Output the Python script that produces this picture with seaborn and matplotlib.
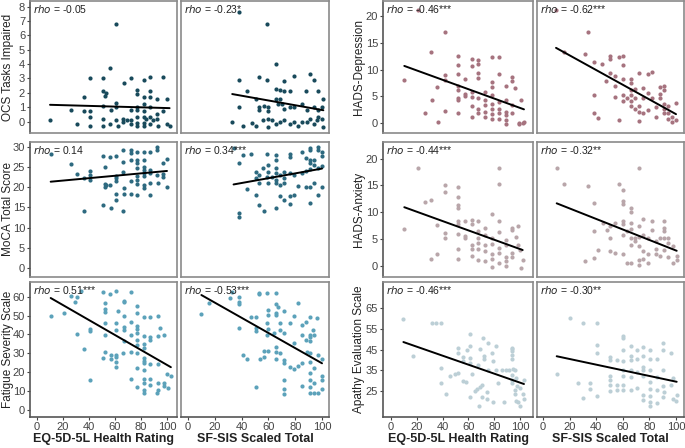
import numpy as np
import matplotlib
matplotlib.use('Agg')
import matplotlib.pyplot as plt
import seaborn as sns

# --- data ---------------------------------------------------------------
ocs_eq_x = [10, 26, 31, 36, 36, 41, 41, 41, 41, 51, 51, 52, 53, 51, 51, 51, 56, 56, 57, 61, 61, 61, 61, 62,
            67, 66, 66, 72, 72, 72, 72, 77, 77, 77, 77, 77, 77, 77, 82, 82, 82, 82, 82, 82, 82, 87, 87, 87,
            87, 87, 87, 92, 92, 93, 97, 97, 100, 100, 102, 69, 84, 89, 92]
ocs_eq_y = [0.1, 0.8, -0.2, 1.7, 0.7, 3.0, 0.7, 0.3, -0.3, 3.0, 2.1, 1.8, 2.0, 1.1, 0.2, -0.3, 3.7, -0.2, 0.8,
            6.8, 1.3, 1.0, 0.1, -0.3, 2.7, 0.2, 0.0, 3.0, 0.8, 0.1, -0.2, 2.2, 1.9, 1.0, 0.8, 0.3, -0.1, -0.3,
            2.9, 1.7, 1.2, 0.7, 0.3, -0.1, -0.3, 3.1, 2.1, 1.7, 1.0, 0.3, -0.2, 1.6, 0.2, -0.3, 3.1, 0.7, -0.2,
            1.6, -0.3, 0.1, 0.2, 0.1, 0.5]

ocs_sis_x = [38, 59, 66, 38, 53, 59, 72, 79, 91, 94, 44, 66, 69, 72, 76, 88, 97, 51, 66, 69, 101, 38, 53, 53,
             57, 60, 60, 67, 70, 72, 76, 79, 85, 89, 94, 97, 100, 33, 41, 48, 51, 56, 60, 60, 63, 66, 69, 72,
             76, 79, 82, 85, 89, 91, 94, 96, 97, 101, 100]
ocs_sis_y = [7.6, 6.8, 4.0, 2.9, 3.1, 2.9, 2.8, 3.2, 3.3, 2.9, 2.1, 2.3, 2.2, 2.1, 2.1, 2.1, 2.1, 1.6, 1.6, 1.6,
             1.6, 1.0, 1.0, 0.8, 1.1, 1.0, 0.7, 1.2, 1.2, 0.9, 1.0, 1.0, 1.2, 0.8, 1.0, 0.8, 1.0, 0.0, -0.3,
             -0.1, -0.3, 0.1, 0.2, -0.4, 0.1, -0.2, 0.0, 0.1, -0.2, 0.0, -0.3, 0.0, -0.05, 0.2, -0.2, 0.1, 0.3,
             -0.4, 0.2]

moca_eq_x = [10.5, 26, 31, 36, 36, 41, 41, 41, 51, 52, 52, 52, 53, 51, 56, 56, 57, 61, 61, 61, 61, 61, 61, 66,
             66, 66, 67, 67, 66, 72, 72, 72, 72, 72, 77, 77, 77, 77, 77, 77, 77, 77, 82, 82, 82, 82, 82, 82,
             82, 82, 87, 87, 87, 87, 87, 92, 92, 92, 93, 97, 97, 97, 100, 100]
moca_eq_y = [28.3, 25.9, 23.4, 22.3, 14.2, 24.2, 23.1, 21.9, 27.9, 25.0, 20.9, 20.0, 20.6, 15.7, 27.5, 20.6,
             14.9, 27.8, 22.9, 22.3, 21.7, 18.4, 16.9, 29.2, 26.3, 23.8, 19.8, 18.3, 14.2, 29.2, 28.5, 26.7,
             21.7, 18.4, 28.9, 26.8, 26.0, 24.8, 22.9, 21.9, 20.8, 18.0, 28.9, 26.8, 25.0, 24.4, 23.7, 22.9,
             20.6, 19.8, 28.9, 24.4, 23.5, 21.2, 18.0, 30.0, 29.2, 23.1, 21.0, 26.0, 23.4, 22.7, 27.1, 20.0]

moca_sis_x = [34, 41, 47, 38, 59, 66, 66, 76, 76, 85, 91, 91, 97, 97, 100, 100, 88, 91, 94, 91, 94, 60, 56,
              51, 66, 60, 72, 66, 69, 76, 79, 85, 88, 91, 97, 100, 53, 51, 59, 63, 66, 72, 53, 60, 66, 69,
              72, 82, 88, 91, 94, 100, 44, 51, 69, 72, 76, 79, 97, 53, 76, 91, 57, 66, 38, 38]
moca_sis_y = [29.8, 28.1, 28.3, 26.0, 28.3, 28.1, 26.8, 28.3, 27.5, 28.9, 29.8, 29.2, 30.0, 29.2, 28.7, 27.8,
              27.3, 26.8, 26.7, 26.0, 25.6, 25.6, 24.8, 23.9, 24.8, 23.9, 23.9, 23.5, 23.1, 23.5, 23.1, 23.5,
              24.2, 24.5, 24.8, 25.4, 23.1, 22.3, 22.7, 22.5, 21.9, 22.3, 21.2, 21.0, 21.2, 20.6, 21.0, 20.4,
              20.2, 20.0, 21.0, 20.0, 19.5, 18.1, 17.9, 16.9, 17.9, 18.1, 18.1, 15.6, 15.9, 16.2, 14.2, 14.8,
              13.7, 12.6]

fss_eq_x = [10.5, 21, 26, 31, 31, 29, 34, 36, 41, 41, 41, 51, 52, 52, 52, 52, 52, 52, 51, 56, 57, 57, 61, 62,
            61, 61, 61, 61, 61, 61, 67, 67, 67, 67, 67, 67, 66, 72, 72, 72, 72, 72, 77, 77, 77, 77, 77, 77,
            77, 77, 77, 77, 82, 82, 82, 82, 82, 82, 82, 82, 82, 82, 82, 82, 87, 87, 87, 87, 87, 87, 93, 93,
            93, 93, 93, 92, 95, 98, 98, 98, 100, 101, 103]
fss_eq_y = [49.8, 51.2, 60.3, 60.0, 40.2, 57.0, 63.0, 32.1, 43.1, 42.0, 15.9, 62.3, 56.8, 53.3, 52.1, 46.2,
            39.7, 30.9, 27.4, 61.4, 29.1, 26.8, 63.0, 52.6, 46.2, 42.4, 29.1, 27.9, 25.6, 22.9, 57.9, 57.0,
            49.8, 43.8, 42.4, 36.7, 30.0, 62.6, 46.8, 39.7, 30.9, 16.2, 55.1, 51.2, 44.5, 42.7, 40.6, 37.1,
            34.4, 30.0, 22.1, 12.4, 49.1, 39.2, 34.9, 32.6, 27.4, 26.1, 24.7, 21.2, 16.2, 14.1, 10.6, 9.2,
            49.4, 38.8, 37.1, 24.4, 16.2, 13.2, 49.8, 39.2, 24.4, 14.1, 10.6, 9.2, 43.2, 39.7, 14.1, 12.7,
            19.1, 11.5, 18.0]

fss_sis_x = [10, 16, 31, 33, 38, 38, 38, 38, 41, 44, 47, 51, 51, 51, 51, 53, 53, 54, 57, 57, 59, 60, 60, 59,
             60, 59, 60, 64, 66, 66, 67, 66, 66, 66, 66, 66, 69, 69, 69, 72, 72, 72, 72, 72, 72, 72, 76, 76,
             79, 79, 79, 82, 82, 85, 85, 85, 85, 88, 88, 89, 91, 91, 91, 91, 91, 91, 91, 91, 91, 93, 94, 94,
             94, 94, 96, 97, 97, 100, 100, 100, 100, 91]
fss_sis_y = [50.8, 56.5, 59.1, 62.6, 60.0, 57.3, 56.1, 43.2, 29.1, 26.8, 49.4, 49.4, 43.2, 42.0, 12.4, 62.1,
             61.4, 26.8, 31.4, 27.9, 62.1, 52.9, 50.3, 45.9, 42.7, 39.7, 31.4, 40.6, 62.1, 56.1, 54.7, 51.2,
             50.3, 33.5, 30.9, 26.8, 45.9, 42.4, 30.4, 52.6, 40.6, 26.5, 25.1, 15.9, 10.9, 8.5, 46.2, 22.9,
             49.8, 35.6, 21.5, 23.3, 56.5, 45.0, 39.7, 25.1, 12.7, 46.8, 37.1, 30.9, 49.4, 39.7, 38.5, 36.7,
             30.4, 19.8, 15.9, 12.0, 9.2, 42.4, 39.7, 22.1, 14.1, 8.8, 48.5, 29.1, 8.8, 26.8, 18.0, 15.9, 10.9,
             25.6]

dep_eq_x = [10.3, 20.7, 26, 31, 31.5, 36, 36.7, 42, 42, 42, 42, 52, 52, 52, 52, 52, 52, 52, 52, 57, 57, 57,
            62.5, 62.5, 62.5, 62.5, 62.5, 62.5, 67.7, 67.7, 67.7, 67.7, 67.7, 67.7, 67.7, 73, 73, 73, 73, 73,
            78.5, 78.5, 78.5, 78.5, 78.5, 78.5, 78.5, 78.5, 83.7, 83.7, 83.7, 83.7, 83.7, 83.7, 89, 89, 89,
            89, 89, 89, 94, 94, 94, 96, 99, 101, 94, 99.5, 102, 103]
dep_eq_y = [8.1, 21.3, 1.9, 13.3, 4.3, 6.8, 0.2, 17.0, 9.0, 8.1, 2.3, 12.6, 10.9, 9.1, 7.0, 6.2, 4.7, 4.3,
            1.8, 8.2, 5.5, 5.1, 12.0, 10.6, 5.8, 4.9, 3.2, 1.1, 11.8, 11.1, 9.3, 8.4, 4.6, 2.7, 1.8, 5.8, 4.3,
            3.3, 2.1, 1.1, 12.3, 7.6, 6.8, 5.2, 3.6, 2.7, 1.6, 0.8, 12.3, 9.1, 4.0, 2.7, 1.8, 0.8, 7.0, 4.3,
            2.1, 1.4, 0.5, -0.3, 8.7, 7.9, 3.3, 6.5, -0.1, 4.3, 1.8, -0.3, -0.1, 0.1]

dep_sis_x = [9.8, 16, 34, 31.6, 38, 38, 41, 44, 50, 50, 57, 60, 60, 50, 54, 47, 57, 54, 54, 38, 60, 60, 60,
             63, 66, 66, 66, 66, 66, 66, 69, 69, 69, 72, 72, 72, 72, 75, 75, 75, 79, 79, 79, 82, 82, 85, 85,
             88, 88, 88, 91, 91, 91, 91, 91, 94, 94, 94, 97, 97, 100, 100]
dep_sis_y = [21.3, 13.3, 17.0, 13.0, 11.4, 1.8, 0.9, 11.1, 12.5, 12.0, 12.3, 12.5, 10.9, 9.3, 8.9, 7.9, 0.5,
             7.0, 4.8, 5.3, 8.2, 5.3, 4.1, 4.7, 8.2, 7.4, 6.2, 5.2, 4.1, 3.2, 6.4, 4.6, 2.7, 9.3, 3.2, 2.1,
             0.3, 6.5, 4.7, 1.8, 9.1, 5.7, 2.4, 9.5, 4.6, 3.0, 1.1, 6.8, 5.5, 4.6, 7.0, 6.2, 3.6, 2.7, 1.8,
             3.2, 1.8, 0.7, 1.1, 0.1, 3.8, 0.5]

anx_eq_x = [10.3, 20.7, 26, 31, 31, 36, 36, 42, 42, 42, 42, 52, 52, 52, 52, 52, 52, 52, 52, 52, 57, 57, 57,
            62.5, 62.5, 62.5, 62.5, 62.5, 67.7, 67.7, 67.7, 67.7, 67.7, 67.7, 73, 73, 73, 73, 73, 78.5, 78.5,
            78.5, 78.5, 78.5, 78.5, 83.7, 83.7, 83.7, 83.7, 83.7, 83.7, 83.7, 89, 89, 89, 89, 89, 94, 94, 94,
            94, 96.6, 98.7, 98.7, 102, 101, 100]
anx_eq_y = [6.9, 18.3, 11.9, 12.3, 1.3, 7.7, 2.2, 15.0, 13.8, 6.1, 5.2, 14.7, 12.8, 11.3, 10.7, 8.3, 7.8, 5.9,
            3.2, 1.3, 8.3, 5.5, 5.1, 8.6, 7.8, 3.9, 3.2, 1.8, 8.3, 6.4, 5.2, 4.3, 3.2, 1.1, 7.1, 5.8, 3.8, 2.8,
            0.8, 9.7, 5.1, 4.1, 2.2, 1.3, -0.3, 18.2, 15.2, 8.3, 6.3, 3.3, 2.4, 0.5, 4.9, 3.9, 1.6, 0.8, -0.1,
            7.1, 6.6, 2.4, 1.6, 5.3, 7.4, 3.9, 1.1, -0.4, 3.0]

anx_sis_x = [10.3, 16, 34, 38, 31.6, 38, 41.6, 45, 38, 48, 50, 50, 50, 54, 54, 57, 60, 60, 60, 60, 60, 60, 60,
             63, 63, 66, 66, 66, 66, 66, 66, 66, 69, 69, 72.4, 72.4, 72.4, 72.4, 72.4, 72.4, 75, 75, 75, 75,
             79, 79, 79, 82, 82, 85, 85, 85, 88, 88, 91, 91, 91, 91, 91, 94, 94, 94, 97.5, 97.5, 100.5, 100.5]
anx_sis_y = [18.2, 15.2, 14.9, 11.8, 0.9, 1.4, 3.0, 8.0, 6.4, 6.75, 7.4, 5.2, 2.8, 8.0, 2.4, 15.3, 14.1, 12.1,
             11.6, 8.4, 7.8, 5.8, 2.2, 6.4, 0.5, 10.8, 10.1, 8.0, 6.9, 5.2, 3.9, 0.5, 5.2, 4.6, 18.2, 7.4, 5.3,
             3.6, 1.1, 0.2, 8.8, 5.8, 2.7, 1.3, 5.1, 2.2, 0.5, 8.4, 6.75, 4.6, 3.2, 2.2, 5.1, 1.75, 8.3, 7.1,
             6.4, 5.1, 3.0, 5.2, 4.25, 1.6, 3.6, 0.5, 1.75, 1.1]

aes_eq_x = [9.6, 16.8, 32, 35, 39, 39, 39, 42.6, 45.7, 49.6, 52, 52, 52, 55.6, 55.6, 55.6, 58, 58.7, 61, 61,
            61, 61, 61, 62.5, 65, 66.4, 67.7, 69, 69, 70.3, 70.3, 68.5, 71.6, 72.4, 72.4, 74, 74, 75.5, 75.5,
            78, 78.8, 78.8, 81.4, 81.4, 83.2, 85.8, 87.6, 89, 91.7, 93.5, 93.5, 93.5, 93.5, 94.8, 96, 96, 97.4,
            98.7, 94, 94, 96, 94, 97, 94, 100, 103, 102, 103, 97, 100]
aes_eq_y = [59.7, 41.8, 58.0, 58.0, 58.0, 35.9, 28.6, 23.7, 32.1, 33.1, 33.7, 45.6, 43.5, 41.2, 39.6, 29.9,
            29.4, 44.8, 52.5, 46.7, 40.7, 38.6, 22.1, 33.4, 25.0, 26.1, 37.5, 45.2, 26.9, 27.8, 22.1, 17.6,
            50.4, 41.8, 40.2, 24.5, 21.3, 48.3, 35.0, 43.5, 39.6, 19.7, 46.7, 35.0, 28.9, 35.0, 19.7, 35.0,
            35.0, 45.6, 44.4, 40.2, 30.2, 35.4, 25.3, 23.7, 27.3, 19.7, 45.2, 42.4, 35.0, 32.5, 31.4, 28.6,
            26.4, 30.5, 23.4, 21.3, 20.0, 17.9]

aes_sis_x = [10.3, 20.3, 29.8, 40.9, 26, 35.3, 35.3, 30.3, 40.4, 40.4, 40.4, 50.4, 50.4, 50.4, 50.4, 50.4,
             50.4, 55.4, 56, 56, 60, 60.4, 60.4, 60.4, 60.4, 60.4, 60.4, 60.4, 66, 66, 66, 66, 66, 66, 70.4,
             70.4, 70.4, 70.4, 75.4, 75.4, 75.4, 75.4, 75.4, 75.4, 75.4, 80.5, 80.5, 80.5, 80.5, 80.5, 80.5,
             80.5, 80.5, 85.5, 85.5, 85.5, 85.5, 90.5, 90.5, 90.5, 90.5, 90.5, 91, 96, 96, 98, 98, 100.5, 100]
aes_sis_y = [33.1, 60.1, 57.7, 58.0, 28.6, 28.9, 26.1, 21.8, 22.4, 47.2, 43.1, 41.5, 39.9, 32.1, 30.5, 27.8,
             25.0, 39.9, 27.8, 25.3, 51.6, 50.4, 44.8, 39.6, 35.0, 32.1, 27.8, 25.3, 46.7, 41.8, 39.9, 35.0,
             31.8, 25.3, 44.8, 40.2, 34.2, 26.6, 46.0, 41.8, 36.7, 35.0, 32.1, 22.9, 20.5, 44.8, 40.2, 35.0,
             29.4, 26.1, 22.4, 19.7, 17.6, 40.2, 31.8, 25.3, 19.2, 48.3, 44.8, 35.0, 27.3, 22.1, 24.5, 43.5,
             27.8, 31.0, 21.3, 22.9, 20.1]

row_labels = ['OCS Tasks Impaired', 'MoCA Total Score', 'Fatigue Severity Scale',
              'HADS-Depression', 'HADS-Anxiety', 'Apathy Evaluation Scale']
col_labels = ['EQ-5D-5L Health Rating', 'SF-SIS Scaled Total']
rho_eq = ['-0.05', '0.14', '0.51***', '-0.46***', '-0.44***', '-0.46***']
rho_sis = ['-0.23*', '0.34***', '-0.53***', '-0.62***', '-0.32**', '-0.30**']
point_colors = ['#194a5b', '#2e6a80', '#5ca2ba', '#a6737f', '#b9a6aa', '#bccfd6']

panels = [
    (ocs_eq_x, ocs_eq_y, ocs_sis_x, ocs_sis_y),
    (moca_eq_x, moca_eq_y, moca_sis_x, moca_sis_y),
    (fss_eq_x, fss_eq_y, fss_sis_x, fss_sis_y),
    (dep_eq_x, dep_eq_y, dep_sis_x, dep_sis_y),
    (anx_eq_x, anx_eq_y, anx_sis_x, anx_sis_y),
    (aes_eq_x, aes_eq_y, aes_sis_x, aes_sis_y),
]
y_limits = [(-0.8, 8.4), (-2.3, 31.3), (-3.7, 67.8), (-1.9, 22.9), (-2.1, 23.1), (12.4, 77.6)]
y_ticks = [range(0, 9), range(0, 31, 5), range(0, 61, 10), range(0, 21, 5), range(0, 21, 5), range(25, 66, 10)]

# --- style -----------------------------------------------------------------
sns.set_theme(style='ticks')
plt.rcParams['font.family'] = ['Liberation Sans', 'DejaVu Sans']
plt.rcParams['text.color'] = '#222222'
plt.rcParams['axes.labelcolor'] = '#222222'
plt.rcParams['xtick.color'] = '#444444'
plt.rcParams['ytick.color'] = '#444444'

W, H = 685, 448
fig = plt.figure(figsize=(6.85, 4.48), dpi=100)

col_px = [(30, 177), (181, 329), (383, 533), (537, 684)]
row_px = [(1, 133), (142, 277), (282, 417)]
eq_xlim = [(-5.4, 107.7), (-6.2, 110)]
sis_xlim = [(-5.2, 105.2), (-4.5, 106)]
ylabel_x = [-0.11, -0.12]

for i, (ex, ey, sx, sy) in enumerate(panels):
    group = i // 3
    row = i % 3
    top, bot = row_px[row]
    for j, (xs, ys) in enumerate([(ex, ey), (sx, sy)]):
        left, right = col_px[group * 2 + j]
        ax = fig.add_axes([left / W, 1 - bot / H, (right - left) / W, (bot - top) / H])
        sns.regplot(x=np.array(xs), y=np.array(ys), ax=ax, ci=None,
                    scatter_kws=dict(s=9, color=point_colors[i], linewidths=0, alpha=1),
                    line_kws=dict(color='black', lw=1.4))
        ax.set_ylim(*y_limits[i])
        ax.set_xlim(*(eq_xlim[group] if j == 0 else sis_xlim[group]))
        ax.set_xticks(range(0, 101, 20))
        ax.set_yticks(list(y_ticks[i]))
        for sp in ax.spines.values():
            sp.set_visible(True)
            sp.set_color('#8a8a8a')
            sp.set_linewidth(1.2)
        ax.tick_params(length=2.5, width=0.8, labelsize=8, pad=1)
        if j == 0:
            ax.set_ylabel(row_labels[i], fontsize=8.5)
            ax.yaxis.set_label_coords(ylabel_x[group], 0.5)
            ax.spines['left'].set_color('#555555')
        else:
            ax.set_ylabel('')
            ax.tick_params(axis='y', left=False, labelleft=False)
        if row == 2:
            ax.set_xlabel(col_labels[j], fontsize=9, fontweight='bold', labelpad=1)
            ax.spines['bottom'].set_color('#555555')
        else:
            ax.set_xlabel('')
            ax.tick_params(axis='x', bottom=False, labelbottom=False)
        rho = rho_eq[i] if j == 0 else rho_sis[i]
        ax.text(0.02, 0.985, r'$\it{rho}$' + ' = ' + rho, transform=ax.transAxes,
                ha='left', va='top', fontsize=7.5)

fig.savefig('out.png', dpi=100)
